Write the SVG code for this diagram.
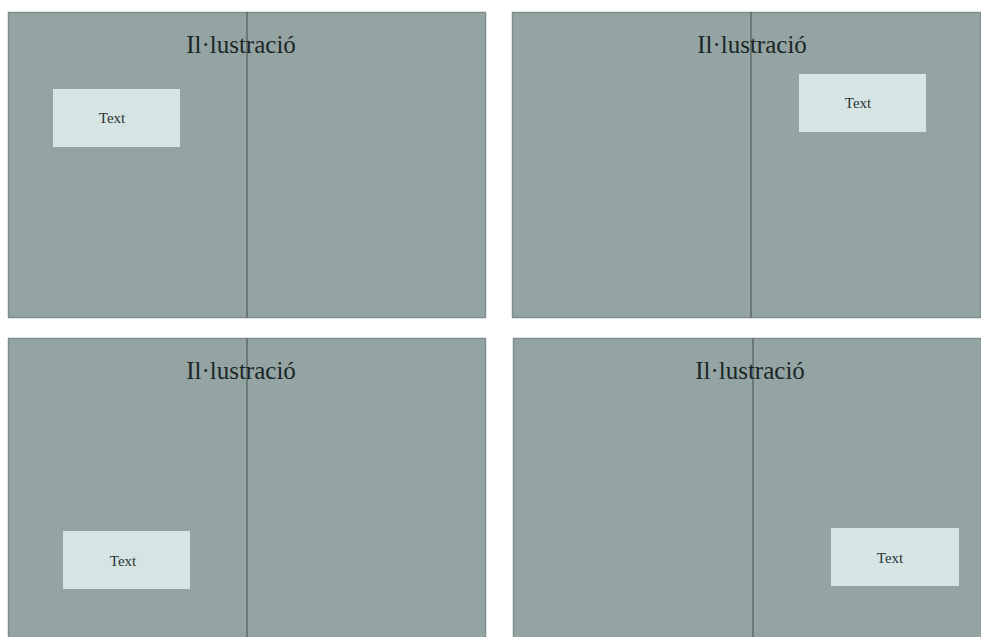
<svg xmlns="http://www.w3.org/2000/svg" width="981" height="637" viewBox="0 0 981 637">
<style>
.page{fill:#94a4a3;stroke:#7f8f8e;stroke-width:1.5}
.spine{stroke:#4f5d5c;stroke-width:1.2}
.box{fill:#d6e4e4}
.title{font-family:"Liberation Serif",serif;font-size:25px;fill:#1c2626;text-anchor:middle}
.label{font-family:"Liberation Serif",serif;font-size:15px;fill:#2a3535;text-anchor:middle}
</style>
<rect width="981" height="637" fill="#ffffff"/>
<g id="panel1">
<rect class="page" x="8.5" y="12.5" width="477" height="305"/>
<line class="spine" x1="247" y1="12" x2="247" y2="318"/>
<text class="title" x="241" y="53">Il·lustració</text>
<rect class="box" x="53" y="89" width="127" height="58"/>
<text class="label" x="112" y="123">Text</text>
</g>
<g id="panel2">
<rect class="page" x="512.5" y="12.5" width="468" height="305"/>
<line class="spine" x1="751" y1="12" x2="751" y2="318"/>
<text class="title" x="752" y="53">Il·lustració</text>
<rect class="box" x="799" y="74" width="127" height="58"/>
<text class="label" x="858" y="108">Text</text>
</g>
<g id="panel3">
<rect class="page" x="8.5" y="338.5" width="477" height="300"/>
<line class="spine" x1="247" y1="338" x2="247" y2="637"/>
<text class="title" x="241" y="379">Il·lustració</text>
<rect class="box" x="63" y="531" width="127" height="58"/>
<text class="label" x="123" y="566">Text</text>
</g>
<g id="panel4">
<rect class="page" x="513.5" y="338.5" width="468" height="300"/>
<line class="spine" x1="753" y1="338" x2="753" y2="637"/>
<text class="title" x="750" y="379">Il·lustració</text>
<rect class="box" x="831" y="528" width="128" height="58"/>
<text class="label" x="890" y="563">Text</text>
</g>
</svg>
